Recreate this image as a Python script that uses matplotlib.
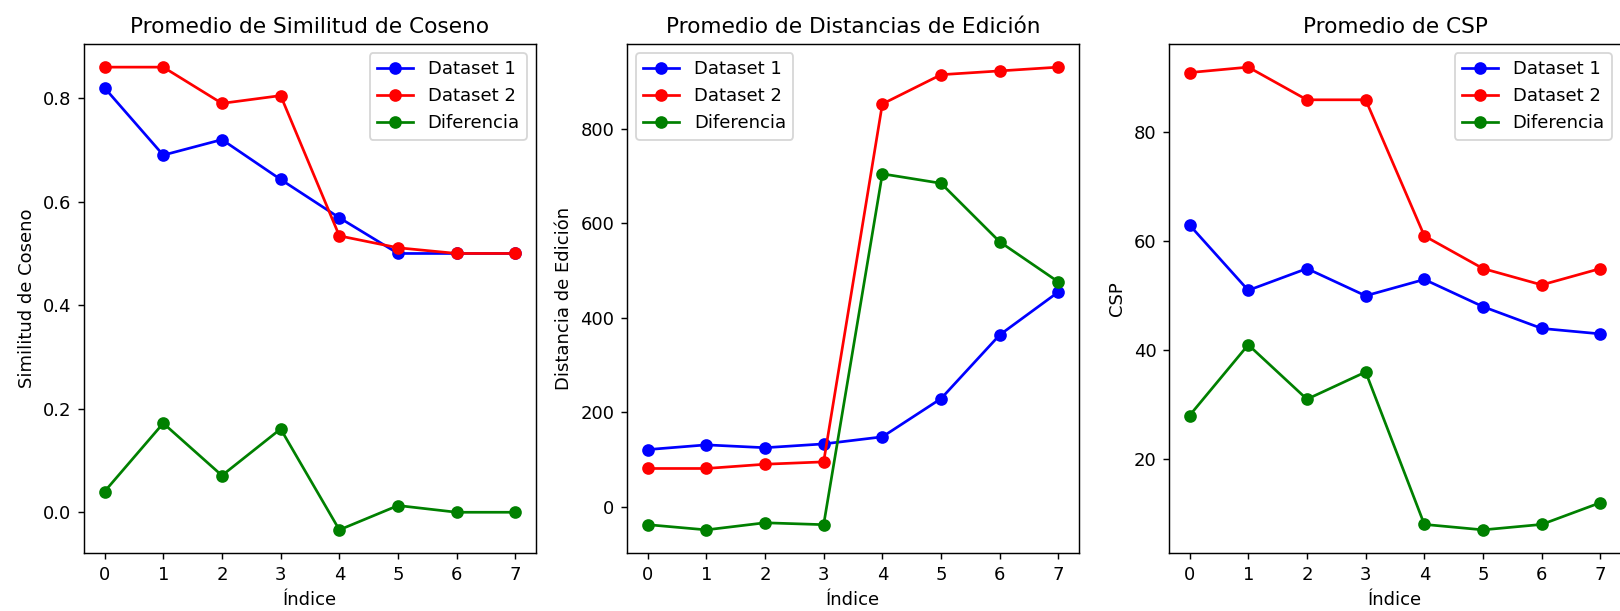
import matplotlib
matplotlib.use("Agg")
import matplotlib.pyplot as plt

indices = list(range(8))

# Similitud de coseno
cos_d1 = [0.82, 0.69, 0.72, 0.643, 0.569, 0.50, 0.50, 0.50]
cos_d2 = [0.86, 0.86, 0.79, 0.805, 0.534, 0.511, 0.50, 0.50]
cos_diff = [0.04, 0.172, 0.071, 0.161, -0.034, 0.013, 0.0, 0.0]

# Distancias de edicion
ed_d1 = [121, 131, 125, 133, 148, 229, 364, 455]
ed_d2 = [81, 81, 90, 95, 853, 915, 923, 931]
ed_diff = [-38, -49, -34, -38, 705, 685, 561, 476]

# CSP
csp_d1 = [63, 51, 55, 50, 53, 48, 44, 43]
csp_d2 = [91, 92, 86, 86, 61, 55, 52, 55]
csp_diff = [28, 41, 31, 36, 8, 7, 8, 12]

titles = ["Promedio de Similitud de Coseno", "Promedio de Distancias de Edición", "Promedio de CSP"]
ylabels = ["Similitud de Coseno", "Distancia de Edición", "CSP"]
series = [(cos_d1, cos_d2, cos_diff), (ed_d1, ed_d2, ed_diff), (csp_d1, csp_d2, csp_diff)]
legend_locs = ["upper right", "upper left", "upper right"]

DPI = 130
W, H = 1620, 611
fig = plt.figure(figsize=(W / DPI, H / DPI), dpi=DPI)
lefts = [84, 627, 1169]
top, bottom, width = 44, 553, 452

for i in range(3):
    ax = fig.add_axes([lefts[i] / W, 1 - bottom / H, width / W, (bottom - top) / H])
    d1, d2, diff = series[i]
    ax.plot(indices, d1, marker="o", color="blue", label="Dataset 1")
    ax.plot(indices, d2, marker="o", color="red", label="Dataset 2")
    ax.plot(indices, diff, marker="o", color="green", label="Diferencia")
    ax.set_title(titles[i])
    ax.set_xlabel("Índice")
    ax.set_ylabel(ylabels[i])
    ax.set_xticks(indices)
    ax.legend(loc=legend_locs[i])

fig.savefig("out.png", dpi=DPI)
